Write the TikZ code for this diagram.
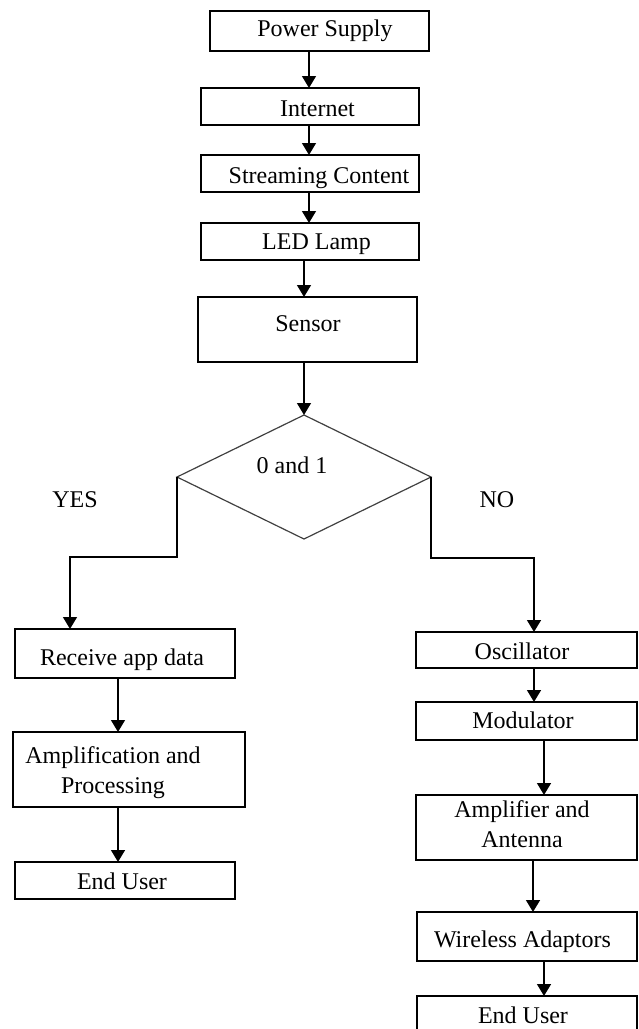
\documentclass[tikz,border=0pt]{standalone}
\usepackage{fontspec}
\setmainfont{Liberation Serif}
\usetikzlibrary{arrows.meta,shapes.geometric}
\begin{document}
\begin{tikzpicture}[x=1pt,y=-1pt,
  box/.style={draw, line width=1.5pt, inner sep=0pt, outer sep=0pt},
  txt/.style={font=\fontsize{24}{30}\selectfont, inner sep=0pt, anchor=base, align=center},
  arr/.style={line width=1.5pt, -{Triangle[width=14pt,length=12pt]}}]
\useasboundingbox (0,0) rectangle (638,1029);

% main column
\node[box, minimum width=219pt, minimum height=40pt] (ps) at (319.5,31) {};
\node[txt] (pst) at (325,36) {Power Supply};
\node[box, minimum width=218pt, minimum height=37pt] (inet) at (310,106.5) {};
\node[txt] (inett) at (317.5,116) {Internet};
\node[box, minimum width=218pt, minimum height=37pt] (stream) at (310,173.5) {};
\node[txt] (streamt) at (319,183) {Streaming Content};
\node[box, minimum width=218pt, minimum height=37pt] (led) at (310,241.5) {};
\node[txt] (ledt) at (316.5,249) {LED Lamp};
\node[box, minimum width=219pt, minimum height=65pt] (sensor) at (307.5,329.5) {};
\node[txt] (sensort) at (308,331) {Sensor};
\node[diamond, draw=black!75, line width=1.2pt, minimum width=254pt, minimum height=124pt, inner sep=0pt, outer sep=0pt] (dia) at (304,477) {};
\node[txt] (diat) at (292,473) {0 and 1};
\node[txt] (yes) at (75,507) {YES};
\node[txt] (no) at (497,507) {NO};

% left branch
\node[box, minimum width=220pt, minimum height=49pt] (rec) at (125,653.5) {};
\node[txt] (rect) at (122,665) {Receive app data};
\node[box, minimum width=232pt, minimum height=75pt] (amp) at (129,769.5) {};
\node[txt] (ampt) at (113,793) {Amplification and\\Processing};
\node[box, minimum width=220pt, minimum height=37pt] (eua) at (125,880.5) {};
\node[txt] (euat) at (122,889) {End User};

% right branch
\node[box, minimum width=221pt, minimum height=36pt] (osc) at (526.5,650) {};
\node[txt] (osct) at (522,659) {Oscillator};
\node[box, minimum width=221pt, minimum height=38pt] (mod) at (526.5,721) {};
\node[txt] (modt) at (523,728) {Modulator};
\node[box, minimum width=221pt, minimum height=65pt] (ampb) at (526.5,827.5) {};
\node[txt] (ampbt) at (522,847) {Amplifier and\\Antenna};
\node[box, minimum width=220pt, minimum height=49pt] (wa) at (527,936.5) {};
\node[txt] (wat) at (522.5,947) {Wireless Adaptors};
\node[box, minimum width=220pt, minimum height=44pt] (eub) at (527,1018) {};
\node[txt] (eubt) at (523,1023) {End User};

% column coordinates
\coordinate (c309) at (309,0);
\coordinate (c304) at (304,0);
\coordinate (c118) at (118,0);
\coordinate (c534) at (534,0);
\coordinate (c544) at (544,0);
\coordinate (c533) at (533,0);
\coordinate (ly) at (70,557);
\coordinate (ry) at (534,558);

% connectors
\draw[arr] (ps.south -| c309) -- (inet.north -| c309);
\draw[arr] (inet.south -| c309) -- (stream.north -| c309);
\draw[arr] (stream.south -| c309) -- (led.north -| c309);
\draw[arr] (led.south -| c304) -- (sensor.north -| c304);
\draw[arr] (sensor.south -| c304) -- (dia.north);
\draw[arr] (dia.west) |- (ly) -- (ly |- rec.north);
\draw[arr] (dia.east) |- (ry) -- (ry |- osc.north);
\draw[arr] (rec.south -| c118) -- (amp.north -| c118);
\draw[arr] (amp.south -| c118) -- (eua.north -| c118);
\draw[arr] (osc.south -| c534) -- (mod.north -| c534);
\draw[arr] (mod.south -| c544) -- (ampb.north -| c544);
\draw[arr] (ampb.south -| c533) -- (wa.north -| c533);
\draw[arr] (wa.south -| c544) -- (eub.north -| c544);
\end{tikzpicture}
\end{document}
